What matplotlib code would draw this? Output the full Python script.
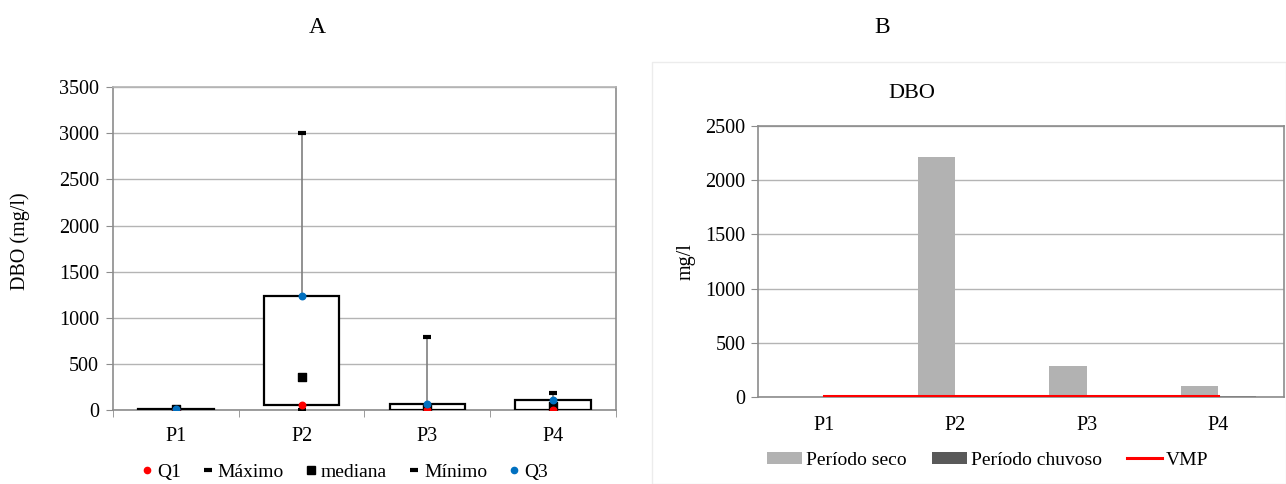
import numpy as np
import matplotlib.pyplot as plt
from matplotlib.lines import Line2D
from matplotlib.patches import Patch, Rectangle

plt.rcParams['font.family'] = ['Liberation Serif', 'DejaVu Serif']

pontos = ['P1', 'P2', 'P3', 'P4']

# painel A (estatisticas por ponto)
q1 = [5, 55, 5, 5]
maximo = [15, 3000, 790, 188]
mediana = [10, 360, 20, 45]
minimo = [1, 0, 0, 0]
q3 = [14, 1240, 68, 105]

# painel B
seco = [0, 2215, 290, 105]
chuvoso = [0, 0, 0, 8]
vmp = [5, 5, 5, 5]

grid_c = '#b4b4b4'
spine_c = '#8c8c8c'
fs = 14.5

fig = plt.figure(figsize=(12.86, 4.84), dpi=100)

# ---------- A ----------
axA = fig.add_axes([0.0879, 0.1529, 0.391, 0.667])
x = np.arange(len(pontos))
w = 0.6
for i in x:
    axA.plot([i, i], [q3[i], maximo[i]], color='#7f7f7f', lw=1.2, zorder=2)
    axA.plot([i, i], [minimo[i], q1[i]], color='#7f7f7f', lw=1.2, zorder=2)
    axA.add_patch(Rectangle((i - w / 2, q1[i]), w, q3[i] - q1[i],
                            facecolor='white', edgecolor='black', lw=1.6, zorder=3))
axA.scatter(x, maximo, marker='_', s=36, color='black', linewidths=3, zorder=4)
axA.scatter(x, minimo, marker='_', s=36, color='black', linewidths=3, zorder=4)
axA.scatter(x, mediana, marker='s', s=32, color='black', zorder=5)
axA.scatter(x, q1, marker='o', s=22, color='#ff0000', zorder=6)
axA.scatter(x, q3, marker='o', s=22, color='#0070c0', zorder=7)

axA.set_xlim(-0.5, 3.5)
axA.set_ylim(0, 3500)
axA.set_yticks(np.arange(0, 3501, 500))
axA.set_xticks(x)
axA.set_xticklabels(pontos)
axA.set_xticks(np.arange(-0.5, 4, 1), minor=True)
axA.tick_params(axis='x', which='major', length=0, pad=12, labelsize=fs)
axA.tick_params(axis='x', which='minor', length=5, color=spine_c)
axA.tick_params(axis='y', length=5, color=spine_c, labelsize=fs, pad=5)
axA.yaxis.grid(True, color=grid_c, lw=1)
axA.set_axisbelow(True)
for s in axA.spines.values():
    s.set_color(spine_c)
    s.set_linewidth(1.2)
axA.spines['top'].set_color(grid_c)

legA = [
    Line2D([], [], marker='o', ls='none', color='#ff0000', markersize=4.5, label='Q1'),
    Line2D([], [], marker='_', ls='none', color='black', markersize=6, markeredgewidth=3, label='Máximo'),
    Line2D([], [], marker='s', ls='none', color='black', markersize=5.5, label='mediana'),
    Line2D([], [], marker='_', ls='none', color='black', markersize=6, markeredgewidth=3, label='Mínimo'),
    Line2D([], [], marker='o', ls='none', color='#0070c0', markersize=4.5, label='Q3'),
]
fig.legend(handles=legA, loc='center', bbox_to_anchor=(0.268, 0.025), ncol=5,
           frameon=False, fontsize=14, handletextpad=0.2, columnspacing=1.1,
           handlelength=0.6, borderpad=0.1)

fig.text(0.2465, 0.944, 'A', ha='center', va='center', fontsize=17)
fig.text(20 / 1286, 1 - 241 / 484, 'DBO (mg/l)', rotation=90, ha='center',
         va='center', fontsize=fs)

# ---------- B ----------
fig.patches.append(Rectangle((652 / 1286, 0.0), 634 / 1286, 1 - 62 / 484,
                             transform=fig.transFigure, facecolor='none',
                             edgecolor='#ececec', lw=1))
axB = fig.add_axes([0.5894, 0.1798, 0.409, 0.560])
bw = 1 / 3.5
axB.bar(x - bw / 2, seco, width=bw, color='#b2b2b2', label='Período seco', zorder=2)
axB.bar(x + bw / 2, chuvoso, width=bw, color='#595959', label='Período chuvoso', zorder=2)
axB.plot(x, vmp, color='#ff0000', lw=2.2, label='VMP', zorder=3)
axB.set_xlim(-0.5, 3.5)
axB.set_ylim(0, 2500)
axB.set_yticks(np.arange(0, 2501, 500))
axB.set_xticks(x)
axB.set_xticklabels(pontos)
axB.tick_params(axis='x', length=0, pad=14, labelsize=fs)
axB.tick_params(axis='y', length=5, color=spine_c, labelsize=fs, pad=4)
axB.yaxis.grid(True, color=grid_c, lw=1)
axB.set_axisbelow(True)
for s in axB.spines.values():
    s.set_color(spine_c)
    s.set_linewidth(1.2)

legB = [
    Patch(facecolor='#b2b2b2', label='Período seco'),
    Patch(facecolor='#595959', label='Período chuvoso'),
    Line2D([], [], color='#ff0000', lw=2.2, label='VMP'),
]
fig.legend(handles=legB, loc='center', bbox_to_anchor=(0.768, 0.049), ncol=3,
           frameon=False, fontsize=14, handletextpad=0.2, columnspacing=1.3,
           handlelength=1.8, handleheight=0.6)

fig.text(0.686, 0.944, 'B', ha='center', va='center', fontsize=17)
fig.text(912 / 1286, 1 - 93 / 484, 'DBO', ha='center', va='center', fontsize=16)
fig.text(686 / 1286, 1 - 262 / 484, 'mg/l', rotation=90, ha='center',
         va='center', fontsize=fs)

fig.savefig('out.png', dpi=100)
